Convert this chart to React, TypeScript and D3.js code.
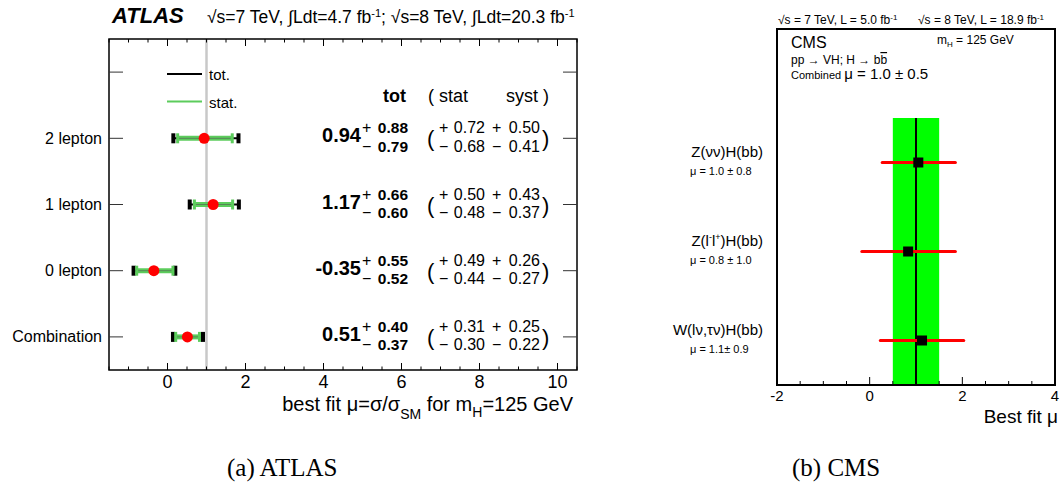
import React from "react";
import * as d3 from "d3";

// ---------- ATLAS data ----------
const atlasCats = ["2 lepton", "1 lepton", "0 lepton", "Combination"];
const atlasMu = [0.94, 1.17, -0.35, 0.51];
const atlasTotUp = [0.88, 0.66, 0.55, 0.4];
const atlasTotDn = [0.79, 0.6, 0.52, 0.37];
const atlasStatUp = [0.72, 0.5, 0.49, 0.31];
const atlasStatDn = [0.68, 0.48, 0.44, 0.3];
const atlasSystUp = [0.5, 0.43, 0.26, 0.25];
const atlasSystDn = [0.41, 0.37, 0.27, 0.22];
const atlasXTicks = [0, 2, 4, 6, 8, 10];
const atlasSM = 1;

// ---------- CMS data ----------
const cmsCats = ["Z(νν)H(bb)", "Z(l-l+)H(bb)", "W(lν,τν)H(bb)"];
const cmsMuText = ["μ = 1.0 ± 0.8", "μ = 0.8 ± 1.0", "μ =  1.1± 0.9"];
const cmsMu = [1.05, 0.83, 1.13];
const cmsErrDn = [0.78, 1.0, 0.9];
const cmsErrUp = [0.8, 1.02, 0.9];
const cmsCombined = 1.0;
const cmsCombErr = 0.5;
const cmsXTicks = [-2, 0, 2, 4];

const SANS = "'Liberation Sans', Arial, Helvetica, sans-serif";
const SERIF = "'Liberation Serif', 'Times New Roman', serif";
const f2 = (v: number) => v.toFixed(2);
const GREEN = "#5ccc5c";

function Atlas() {
  const L = 109, R = 577, T = 39, B = 370;
  const x = d3.scaleLinear().domain([-1.5, 10.5]).range([L, R]);
  const y = d3.scaleBand<string>().domain(["", ...atlasCats]).range([T, B]).padding(0);
  const yc = (c: string) => (y(c) as number) + y.bandwidth() / 2;
  const minor = d3.range(-1.5, 10.5 + 1e-9, 0.5);
  return (
    <g fontFamily={SANS}>
      <text x={112} y={23} fontSize={22} fontWeight="bold" fontStyle="italic">ATLAS</text>
      <text x={207} y={23} fontSize={17.5}>
        √s=7 TeV, ∫Ldt=4.7 fb<tspan dy={-6} fontSize={11}>-1</tspan>
        <tspan dy={6}>; √s=8 TeV, ∫Ldt=20.3 fb</tspan>
        <tspan dy={-6} fontSize={11}>-1</tspan>
      </text>
      {/* SM line */}
      <line x1={x(atlasSM)} x2={x(atlasSM)} y1={T} y2={B} stroke="#c8c8c8" strokeWidth={2.5} />
      {/* frame */}
      <rect x={L} y={T} width={R - L} height={B - T} fill="none" stroke="#000" strokeWidth={1.5} />
      {minor.map((v) => {
        const major = Math.abs(v % 2) < 1e-9;
        const len = major ? 7 : 3.5;
        return (
          <g key={v}>
            <line x1={x(v)} x2={x(v)} y1={B} y2={B - len} stroke="#000" strokeWidth={1} />
            <line x1={x(v)} x2={x(v)} y1={T} y2={T + len} stroke="#000" strokeWidth={1} />
          </g>
        );
      })}
      {atlasXTicks.map((v) => (
        <text key={v} x={x(v)} y={388} fontSize={18} textAnchor="middle">{v}</text>
      ))}
      <text x={573} y={411} fontSize={20} textAnchor="end">
        best fit μ=σ/σ<tspan dy={8} fontSize={14}>SM</tspan>
        <tspan dy={-8}> for m</tspan>
        <tspan dy={6} fontSize={14}>H</tspan>
        <tspan dy={-6}>=125 GeV</tspan>
      </text>
      {/* y ticks */}
      {["", ...atlasCats].map((c) => (
        <g key={"t" + c}>
          <line x1={L} x2={L + 14} y1={yc(c)} y2={yc(c)} stroke="#333" strokeWidth={1} />
          <line x1={R - 14} x2={R} y1={yc(c)} y2={yc(c)} stroke="#333" strokeWidth={1} />
        </g>
      ))}
      {atlasCats.map((c) => (
        <text key={"l" + c} x={102} y={yc(c) + 5.5} fontSize={16} textAnchor="end">{c}</text>
      ))}
      {/* legend */}
      <line x1={167} x2={202} y1={74} y2={74} stroke="#000" strokeWidth={2} />
      <text x={209} y={80} fontSize={15}>tot.</text>
      <line x1={167} x2={202} y1={101.5} y2={101.5} stroke={GREEN} strokeWidth={2} />
      <text x={209} y={107.5} fontSize={15}>stat.</text>
      {/* data */}
      {atlasCats.map((c, i) => {
        const cy = yc(c);
        const t0 = x(atlasMu[i] - atlasTotDn[i]);
        const t1 = x(atlasMu[i] + atlasTotUp[i]);
        const s0 = x(atlasMu[i] - atlasStatDn[i]);
        const s1 = x(atlasMu[i] + atlasStatUp[i]);
        return (
          <g key={"d" + c}>
            <line x1={t0} x2={t1} y1={cy} y2={cy} stroke="#000" strokeWidth={2} />
            <line x1={s0} x2={s1} y1={cy} y2={cy} stroke={GREEN} strokeWidth={5} />
            <line x1={s0} x2={s1} y1={cy} y2={cy} stroke="#555" strokeWidth={1} opacity={0.6} />
            <rect x={t0 - 2} y={cy - 5} width={4} height={10} fill="#000" />
            <rect x={t1 - 2} y={cy - 5} width={4} height={10} fill="#000" />
            <rect x={s0 - 1.5} y={cy - 5} width={3} height={10} fill={GREEN} />
            <rect x={s1 - 1.5} y={cy - 5} width={3} height={10} fill={GREEN} />
            <circle cx={x(atlasMu[i])} cy={cy} r={5.5} fill="#ff0000" />
          </g>
        );
      })}
      {/* table */}
      <text x={406} y={102} fontSize={18} fontWeight="bold" textAnchor="end">tot</text>
      <text x={428} y={102} fontSize={18}>( stat</text>
      <text x={549} y={102} fontSize={18} textAnchor="end">syst )</text>
      {atlasCats.map((c, i) => {
        const cy = yc(c);
        return (
          <g key={"tb" + c}>
            <text x={361} y={cy + 4} fontSize={20} fontWeight="bold" textAnchor="end">{f2(atlasMu[i])}</text>
            <text x={362} y={cy - 5} fontSize={16}>+</text>
            <text x={362} y={cy + 13.5} fontSize={16}>−</text>
            <text x={408} y={cy - 5} fontSize={15.5} fontWeight="bold" textAnchor="end">{f2(atlasTotUp[i])}</text>
            <text x={408} y={cy + 13.5} fontSize={15.5} fontWeight="bold" textAnchor="end">{f2(atlasTotDn[i])}</text>
            <text x={427} y={cy + 8} fontSize={22}>(</text>
            <text x={439} y={cy - 5} fontSize={16}>+</text>
            <text x={439} y={cy + 13.5} fontSize={16}>−</text>
            <text x={485} y={cy - 5} fontSize={16} textAnchor="end">{f2(atlasStatUp[i])}</text>
            <text x={485} y={cy + 13.5} fontSize={16} textAnchor="end">{f2(atlasStatDn[i])}</text>
            <text x={492} y={cy - 5} fontSize={16}>+</text>
            <text x={492} y={cy + 13.5} fontSize={16}>−</text>
            <text x={540} y={cy - 5} fontSize={16} textAnchor="end">{f2(atlasSystUp[i])}</text>
            <text x={540} y={cy + 13.5} fontSize={16} textAnchor="end">{f2(atlasSystDn[i])}</text>
            <text x={542} y={cy + 8} fontSize={22}>)</text>
          </g>
        );
      })}
      <text x={227} y={476} fontSize={25} fontFamily={SERIF}>(a) ATLAS</text>
    </g>
  );
}

function CmsLabel({ s }: { s: string }) {
  if (s.includes("l-l+")) {
    return (
      <>
        Z(l<tspan dy={-6} fontSize={9}>-</tspan>
        <tspan dy={6}>l</tspan>
        <tspan dy={-6} fontSize={9}>+</tspan>
        <tspan dy={6}>)H(bb)</tspan>
      </>
    );
  }
  return <>{s}</>;
}

function Cms() {
  const L = 777, R = 1055, T = 29, B = 385;
  const x = d3.scaleLinear().domain([-2, 4]).range([L, R]);
  const rows = ["", ...cmsCats];
  const y = d3.scaleBand<string>().domain(rows).range([T, B]).padding(0);
  const yc = (c: string) => (y(c) as number) + y.bandwidth() / 2;
  const bandTop = y(cmsCats[0]) as number;
  const minor = d3.range(-2, 4 + 1e-9, 0.5);
  return (
    <g fontFamily={SANS}>
      <text x={778} y={24} fontSize={12}>
        √s = 7 TeV, L = 5.0 fb<tspan dy={-4} fontSize={8}>-1</tspan>
      </text>
      <text x={918} y={24} fontSize={12}>
        √s = 8 TeV, L = 18.9 fb<tspan dy={-4} fontSize={8}>-1</tspan>
      </text>
      <rect x={x(cmsCombined - cmsCombErr)} y={bandTop} width={x(cmsCombined + cmsCombErr) - x(cmsCombined - cmsCombErr)} height={B - bandTop} fill="#00ff00" />
      <line x1={x(cmsCombined)} x2={x(cmsCombined)} y1={bandTop} y2={B} stroke="#000" strokeWidth={2} />
      {cmsCats.map((c, i) => {
        const cy = yc(c);
        return (
          <g key={c}>
            <line x1={x(cmsMu[i] - cmsErrDn[i])} x2={x(cmsMu[i] + cmsErrUp[i])} y1={cy} y2={cy} stroke="#ff0000" strokeWidth={3} strokeLinecap="round" />
            <rect x={x(cmsMu[i]) - 5} y={cy - 5} width={10} height={10} fill="#000" />
            <text x={763} y={cy - 5.5} fontSize={15} textAnchor="end"><CmsLabel s={c} /></text>
            <text x={690} y={cy + 12.5} fontSize={11}>{cmsMuText[i]}</text>
          </g>
        );
      })}
      <rect x={L} y={T} width={R - L} height={B - T} fill="none" stroke="#000" strokeWidth={2} />
      {minor.map((v) => {
        const major = Math.abs(v % 2) < 1e-9;
        return <line key={v} x1={x(v)} x2={x(v)} y1={B} y2={B - (major ? 8 : 4)} stroke="#000" strokeWidth={1} />;
      })}
      {cmsXTicks.map((v) => (
        <text key={v} x={x(v)} y={401} fontSize={15} textAnchor="middle">{v}</text>
      ))}
      <text x={1058} y={423} fontSize={19} textAnchor="end">Best fit μ</text>
      <text x={791} y={48} fontSize={16}>CMS</text>
      <text x={937} y={44} fontSize={12}>
        m<tspan dy={3} fontSize={8}>H</tspan><tspan dy={-3}> = 125 GeV</tspan>
      </text>
      <text x={791} y={64} fontSize={12}>
        pp → VH; H → b<tspan style={{ textDecoration: "overline" }}>b</tspan>
      </text>
      <text x={791} y={79} fontSize={11}>
        Combined <tspan fontSize={15}>μ = 1.0 ± 0.5</tspan>
      </text>
      <text x={792} y={476} fontSize={25} fontFamily={SERIF}>(b) CMS</text>
    </g>
  );
}

export default function App() {
  return (
    <svg width={1061} height={494} style={{ position: "absolute", left: 0, top: 0, background: "#fff" }}>
      <rect width={1061} height={494} fill="#fff" />
      <Atlas />
      <Cms />
    </svg>
  );
}
